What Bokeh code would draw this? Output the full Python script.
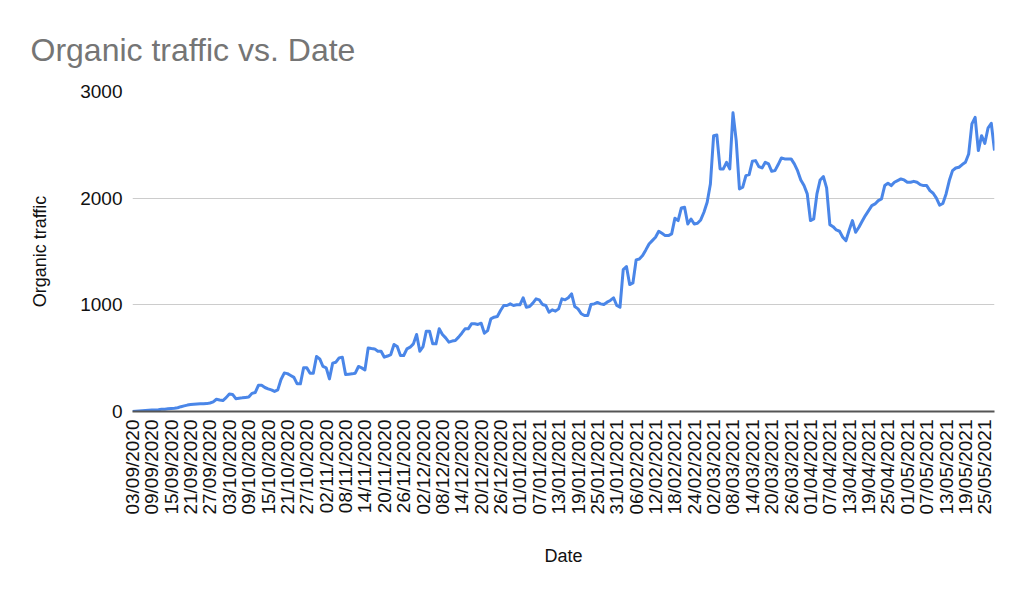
import math

import pandas as pd
from bokeh.embed import file_html
from bokeh.models import ColumnDataSource, FixedTicker, Range1d
from bokeh.plotting import figure
from bokeh.resources import INLINE

# daily organic traffic, starting 03/09/2020 (one row per 6 days)
start_date = "2020-09-03"
traffic = [
    0, 3, 5, 7, 9, 11,
    13, 15, 17, 20, 22, 25,
    28, 31, 35, 45, 53, 60,
    65, 68, 70, 72, 72, 74,
    80, 90, 115, 108, 103, 130,
    165, 160, 120, 125, 128, 132,
    135, 170, 178, 245, 245, 225,
    212, 203, 188, 203, 300, 360,
    355, 338, 320, 259, 259, 410,
    409, 359, 359, 515, 493, 422,
    409, 306, 453, 462, 503, 509,
    347, 350, 353, 359, 422, 409,
    390, 596, 590, 587, 565, 565,
    509, 520, 534, 628, 609, 525,
    525, 587, 603, 634, 722, 565,
    609, 753, 753, 634, 634, 775,
    722, 690, 650, 660, 665, 697,
    734, 775, 775, 822, 822, 816,
    828, 734, 759, 869, 884, 891,
    947, 994, 994, 1009, 994, 1000,
    1000, 1066, 978, 984, 1016, 1056,
    1047, 1003, 994, 931, 953, 941,
    962, 1056, 1047, 1066, 1103, 984,
    962, 916, 900, 900, 1003, 1009,
    1022, 1009, 1003, 1025, 1041, 1066,
    994, 978, 1330, 1359, 1190, 1205,
    1421, 1430, 1462, 1515, 1571, 1602,
    1633, 1690, 1671, 1649, 1649, 1665,
    1811, 1790, 1908, 1915, 1758, 1805,
    1758, 1765, 1796, 1868, 1962, 2133,
    2586, 2592, 2274, 2274, 2336, 2274,
    2800, 2539, 2086, 2102, 2211, 2221,
    2346, 2352, 2296, 2283, 2336, 2321,
    2252, 2258, 2315, 2377, 2368, 2368,
    2368, 2321, 2258, 2171, 2118, 2040,
    1790, 1805, 2040, 2171, 2202, 2096,
    1752, 1733, 1702, 1690, 1634, 1602,
    1702, 1790, 1680, 1727, 1783, 1837,
    1883, 1930, 1946, 1977, 1993, 2118,
    2140, 2118, 2149, 2165, 2180, 2171,
    2149, 2149, 2158, 2149, 2127, 2118,
    2118, 2071, 2046, 2000, 1935, 1950,
    2040, 2165, 2258, 2283, 2290, 2315,
    2336, 2414, 2696, 2758, 2446, 2586,
    2514, 2658, 2702, 2446,
]
dates = pd.date_range(start_date, periods=len(traffic)).strftime("%d/%m/%Y").tolist()
tick_every = 6
y_ticks = [0, 1000, 2000, 3000]

source = ColumnDataSource(data=dict(
    day=list(range(len(traffic))),
    traffic=traffic,
    date=dates,
))

p = figure(width=1008, height=580, output_backend="svg", toolbar_location=None,
           x_range=Range1d(0, len(traffic) - 1), y_range=Range1d(0, 3000),
           min_border_left=132, min_border_right=14,
           min_border_top=91, min_border_bottom=169)
p.outline_line_color = None

p.title.text = "Organic traffic vs. Date"
p.title.text_font = "Liberation Sans"
p.title.text_font_size = "32px"
p.title.text_font_style = "normal"
p.title.text_color = "#757575"
p.title.align = "left"
p.title.offset = -102
p.title.standoff = 48

# x axis: one label every 6 days, vertical
p.xaxis.ticker = FixedTicker(ticks=list(range(0, len(traffic), tick_every)))
p.xaxis.major_label_overrides = {i: dates[i] for i in range(0, len(traffic), tick_every)}
p.xaxis.major_label_orientation = math.pi / 2
p.xaxis.axis_label = "Date"
p.xaxis.axis_line_color = "#555555"
p.xaxis.axis_line_width = 2
p.xaxis.major_label_standoff = 2
p.xaxis.axis_label_standoff = 28

p.yaxis.ticker = FixedTicker(ticks=y_ticks)
p.yaxis.axis_label = "Organic traffic"
p.yaxis.axis_line_color = None
p.yaxis.major_label_standoff = 4
p.yaxis.axis_label_standoff = 27

for ax in (p.xaxis, p.yaxis):
    ax.major_tick_line_color = None
    ax.minor_tick_line_color = None
    ax.major_label_text_font = "Liberation Sans"
    ax.major_label_text_font_size = "19px"
    ax.major_label_text_color = "#111111"
    ax.axis_label_text_font = "Liberation Sans"
    ax.axis_label_text_font_size = "18px"
    ax.axis_label_text_font_style = "normal"
    ax.axis_label_text_color = "#111111"

p.xgrid.grid_line_color = None
p.ygrid.grid_line_color = "#cccccc"
p.ygrid.grid_line_width = 1

p.line("day", "traffic", source=source, line_color="#4a86e8", line_width=3,
       line_join="round")

open("out.html", "w").write(file_html(p, INLINE))
